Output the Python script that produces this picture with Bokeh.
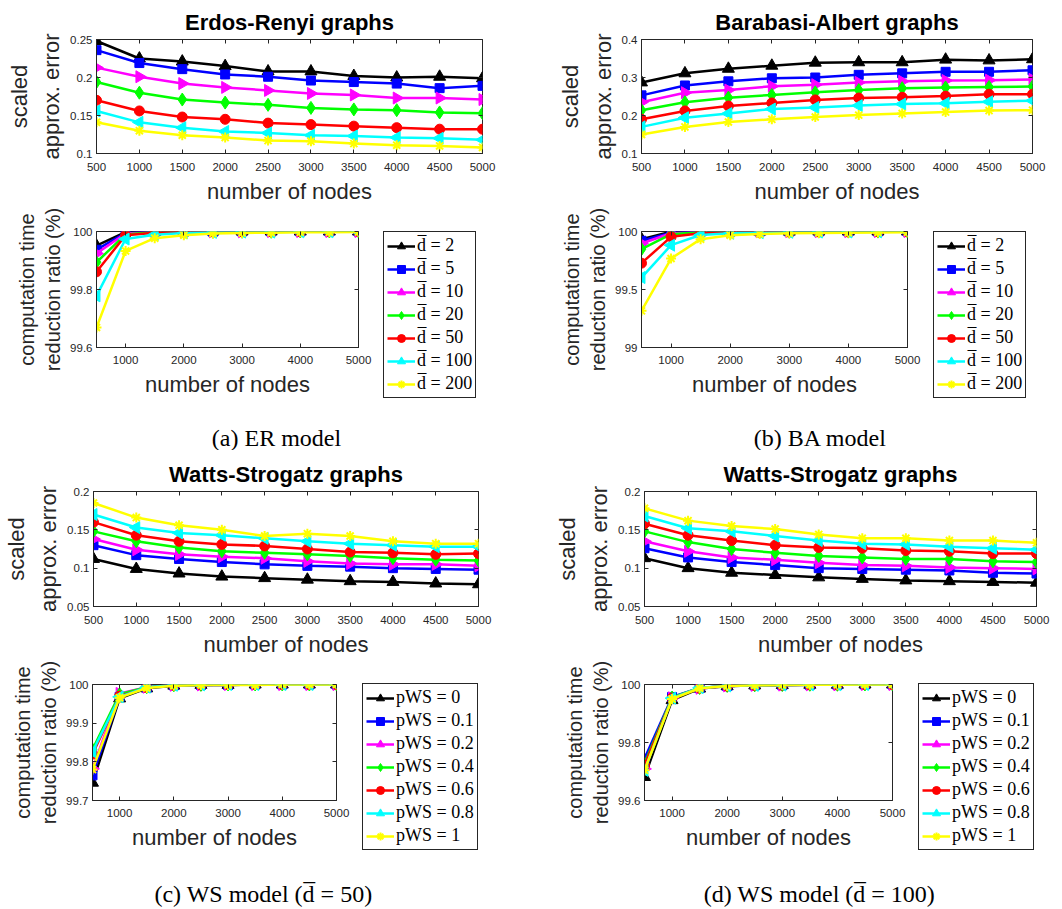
import math
from bokeh.plotting import figure
from bokeh.models import (Range1d, FixedTicker, LinearAxis, CustomJSTickFormatter,
                          Legend, LegendItem, Label, Spacer)
from bokeh.layouts import column, row
from bokeh.embed import file_html
from bokeh.resources import INLINE

# ---------------- data ----------------
nodes = [500, 1000, 1500, 2000, 2500, 3000, 3500, 4000, 4500, 5000]
err_xticks = [500, 1000, 1500, 2000, 2500, 3000, 3500, 4000, 4500, 5000]
time_xticks = [1000, 2000, 3000, 4000, 5000]

degree_labels = ["d\u0305 = 2", "d\u0305 = 5", "d\u0305 = 10", "d\u0305 = 20",
                 "d\u0305 = 50", "d\u0305 = 100", "d\u0305 = 200"]
pws_labels = ["pWS = 0", "pWS = 0.1", "pWS = 0.2", "pWS = 0.4",
              "pWS = 0.6", "pWS = 0.8", "pWS = 1"]
captions = ["(a) ER model", "(b) BA model",
            "(c) WS model (d\u0305 = 50)", "(d) WS model (d\u0305 = 100)"]

# Erdos-Renyi: scaled approx. error (rows: d=2,5,10,20,50,100,200)
er_error = [
    [0.248, 0.225, 0.221, 0.215, 0.208, 0.208, 0.202, 0.200, 0.201, 0.199],
    [0.236, 0.219, 0.211, 0.204, 0.201, 0.196, 0.194, 0.192, 0.186, 0.189],
    [0.213, 0.201, 0.192, 0.187, 0.183, 0.179, 0.177, 0.173, 0.173, 0.171],
    [0.194, 0.180, 0.171, 0.167, 0.164, 0.160, 0.158, 0.157, 0.154, 0.153],
    [0.170, 0.156, 0.148, 0.145, 0.140, 0.138, 0.136, 0.134, 0.132, 0.132],
    [0.156, 0.141, 0.134, 0.129, 0.127, 0.124, 0.123, 0.121, 0.120, 0.118],
    [0.141, 0.130, 0.124, 0.121, 0.117, 0.116, 0.113, 0.111, 0.110, 0.108],
]
# Barabasi-Albert: scaled approx. error
ba_error = [
    [0.287, 0.311, 0.323, 0.331, 0.339, 0.340, 0.340, 0.347, 0.345, 0.348],
    [0.253, 0.279, 0.290, 0.298, 0.300, 0.307, 0.311, 0.315, 0.315, 0.319],
    [0.235, 0.260, 0.267, 0.277, 0.281, 0.287, 0.290, 0.292, 0.293, 0.295],
    [0.214, 0.235, 0.247, 0.254, 0.261, 0.267, 0.272, 0.274, 0.275, 0.276],
    [0.190, 0.212, 0.225, 0.233, 0.241, 0.246, 0.248, 0.251, 0.256, 0.256],
    [0.170, 0.194, 0.205, 0.217, 0.221, 0.226, 0.230, 0.232, 0.236, 0.239],
    [0.150, 0.170, 0.183, 0.190, 0.196, 0.201, 0.205, 0.209, 0.213, 0.214],
]
# Erdos-Renyi: computation time reduction ratio (%)
er_time = [
    [99.951, 99.998, 99.999, 99.999, 100.0, 100.0, 100.0, 100.0, 100.0, 100.0],
    [99.937, 99.995, 99.999, 99.999, 99.999, 100.0, 100.0, 100.0, 100.0, 100.0],
    [99.924, 99.993, 99.998, 99.999, 99.999, 99.999, 100.0, 100.0, 100.0, 100.0],
    [99.894, 99.990, 99.998, 99.999, 99.999, 99.999, 99.999, 100.0, 100.0, 100.0],
    [99.861, 99.987, 99.996, 99.998, 99.999, 99.999, 99.999, 99.999, 100.0, 100.0],
    [99.778, 99.974, 99.989, 99.995, 99.997, 99.998, 99.998, 99.999, 99.999, 99.999],
    [99.669, 99.933, 99.977, 99.987, 99.993, 99.995, 99.996, 99.997, 99.997, 99.998],
]
# Barabasi-Albert: computation time reduction ratio (%)
ba_time = [
    [99.934, 99.998, 99.998, 99.999, 99.999, 99.999, 100.0, 100.0, 100.0, 100.0],
    [99.920, 99.990, 99.997, 99.998, 99.999, 99.999, 99.999, 100.0, 100.0, 100.0],
    [99.897, 99.985, 99.995, 99.997, 99.998, 99.999, 99.999, 99.999, 100.0, 100.0],
    [99.848, 99.977, 99.994, 99.997, 99.998, 99.998, 99.999, 99.999, 99.999, 99.999],
    [99.727, 99.954, 99.985, 99.990, 99.994, 99.996, 99.997, 99.998, 99.998, 99.999],
    [99.603, 99.882, 99.970, 99.985, 99.990, 99.993, 99.995, 99.996, 99.997, 99.997],
    [99.316, 99.767, 99.934, 99.968, 99.978, 99.985, 99.988, 99.990, 99.992, 99.993],
]
# Watts-Strogatz (d=50): scaled approx. error (rows: p=0,0.1,0.2,0.4,0.6,0.8,1)
ws50_error = [
    [0.112, 0.099, 0.093, 0.089, 0.087, 0.085, 0.083, 0.082, 0.080, 0.079],
    [0.130, 0.117, 0.112, 0.108, 0.105, 0.103, 0.102, 0.100, 0.099, 0.098],
    [0.138, 0.124, 0.118, 0.115, 0.113, 0.109, 0.106, 0.105, 0.105, 0.103],
    [0.148, 0.135, 0.127, 0.122, 0.120, 0.118, 0.116, 0.113, 0.111, 0.110],
    [0.160, 0.143, 0.135, 0.131, 0.129, 0.125, 0.121, 0.120, 0.118, 0.119],
    [0.170, 0.153, 0.146, 0.143, 0.139, 0.135, 0.132, 0.130, 0.128, 0.128],
    [0.185, 0.166, 0.156, 0.150, 0.142, 0.145, 0.142, 0.135, 0.132, 0.132],
]
# Watts-Strogatz (d=100): scaled approx. error
ws100_error = [
    [0.113, 0.100, 0.094, 0.091, 0.088, 0.086, 0.084, 0.083, 0.082, 0.081],
    [0.126, 0.114, 0.108, 0.104, 0.100, 0.099, 0.098, 0.097, 0.094, 0.093],
    [0.135, 0.122, 0.114, 0.111, 0.107, 0.104, 0.103, 0.101, 0.100, 0.099],
    [0.148, 0.134, 0.125, 0.120, 0.116, 0.114, 0.112, 0.112, 0.109, 0.108],
    [0.158, 0.143, 0.136, 0.130, 0.127, 0.126, 0.123, 0.122, 0.119, 0.119],
    [0.168, 0.152, 0.148, 0.142, 0.136, 0.132, 0.131, 0.128, 0.126, 0.124],
    [0.178, 0.162, 0.155, 0.151, 0.144, 0.139, 0.139, 0.136, 0.136, 0.133],
]
# Watts-Strogatz (d=50): computation time reduction ratio (%)
ws50_time = [
    [99.746, 99.964, 99.990, 99.997, 99.999, 99.999, 100.0, 100.0, 100.0, 100.0],
    [99.765, 99.968, 99.992, 99.998, 99.999, 99.999, 100.0, 100.0, 100.0, 100.0],
    [99.782, 99.977, 99.993, 99.998, 99.999, 100.0, 100.0, 100.0, 100.0, 100.0],
    [99.832, 99.975, 99.993, 99.998, 99.999, 100.0, 100.0, 100.0, 100.0, 100.0],
    [99.820, 99.970, 99.992, 99.998, 99.999, 100.0, 100.0, 100.0, 100.0, 100.0],
    [99.826, 99.968, 99.993, 99.998, 99.999, 100.0, 100.0, 100.0, 100.0, 100.0],
    [99.780, 99.966, 99.991, 99.997, 99.999, 99.999, 99.999, 100.0, 100.0, 100.0],
]
# Watts-Strogatz (d=100): computation time reduction ratio (%)
ws100_time = [
    [99.681, 99.946, 99.986, 99.994, 99.997, 99.998, 99.999, 99.999, 100.0, 100.0],
    [99.744, 99.957, 99.988, 99.995, 99.997, 99.998, 99.999, 99.999, 100.0, 100.0],
    [99.709, 99.954, 99.987, 99.995, 99.997, 99.998, 99.999, 99.999, 100.0, 100.0],
    [99.727, 99.955, 99.988, 99.995, 99.997, 99.998, 99.999, 99.999, 100.0, 100.0],
    [99.721, 99.953, 99.988, 99.995, 99.997, 99.998, 99.999, 99.999, 100.0, 100.0],
    [99.704, 99.953, 99.989, 99.995, 99.997, 99.998, 99.999, 99.999, 100.0, 100.0],
    [99.704, 99.950, 99.987, 99.995, 99.997, 99.998, 99.999, 99.999, 100.0, 100.0],
]

# ---------------- styles ----------------
AX = "#262626"
COLORS = ["#000000", "#0000ff", "#ff00ff", "#00ff00", "#ff0000", "#00ffff", "#ffff00"]
MARKERS = [("triangle", 0.0, 12), ("square", 0.0, 9), ("triangle", -math.pi / 2, 12),
           ("diamond", 0.0, 13), ("circle", 0.0, 10), ("triangle", math.pi / 2, 12),
           ("asterisk", 0.0, 10)]
SANS = "Liberation Sans"
SERIF = "Liberation Serif"
NAN = float("nan")


def style_axis(ax, ticks, label_size, tick_standoff, label_standoff, line_height=1.2):
    ax.ticker = FixedTicker(ticks=ticks)
    ax.formatter = CustomJSTickFormatter(code="return String(Math.round(tick*1000)/1000)")
    ax.major_tick_in = 4
    ax.major_tick_out = 0
    ax.minor_tick_line_color = None
    ax.axis_line_color = AX
    ax.major_tick_line_color = AX
    ax.major_label_text_color = AX
    ax.major_label_text_font = SANS
    ax.major_label_text_font_size = "11.5px"
    ax.major_label_standoff = tick_standoff
    ax.axis_label_text_font = SANS
    ax.axis_label_text_font_size = label_size
    ax.axis_label_text_font_style = "normal"
    ax.axis_label_text_color = AX
    ax.axis_label_text_line_height = line_height
    ax.axis_label_standoff = label_standoff


def mirror_axis(ticks):
    return LinearAxis(ticker=FixedTicker(ticks=ticks),
                      formatter=CustomJSTickFormatter(code="return ''"),
                      major_tick_in=4, major_tick_out=0, minor_tick_line_color=None,
                      axis_line_color=None, major_tick_line_color=AX,
                      major_label_standoff=0, major_label_text_font_size="1px")


def make_fig(w, h, left, right, top, bottom, yr, yticks, xticks, ylabel, ylabel_size,
             title=None, title_standoff=4, xstand=(9, 5), ylh=1.2):
    p = figure(width=w, height=h, x_range=Range1d(500, 5000), y_range=Range1d(*yr),
               output_backend="svg", toolbar_location=None,
               min_border_left=left, min_border_right=right,
               min_border_top=top, min_border_bottom=bottom,
               x_axis_label="number of nodes", y_axis_label=ylabel)
    p.grid.visible = False
    p.outline_line_color = AX
    p.outline_line_width = 1
    p.outline_line_alpha = 1
    p.background_fill_color = "white"
    p.border_fill_color = "white"
    style_axis(p.xaxis[0], xticks, "22px", xstand[0], xstand[1])
    style_axis(p.yaxis[0], yticks, ylabel_size, 4, 3, ylh)
    p.add_layout(mirror_axis(xticks), "above")
    p.add_layout(mirror_axis(yticks), "right")
    if title:
        p.title.text = title
        p.title.text_font = SANS
        p.title.text_font_size = "22px"
        p.title.text_font_style = "bold"
        p.title.text_color = "black"
        p.title.align = "center"
        p.title.standoff = title_standoff
    return p


def draw_series(p, data):
    for i, ys in enumerate(data):
        c = COLORS[i]
        mk, ang, sz = MARKERS[i]
        p.line(nodes, ys, line_color=c, line_width=2.5)
        p.scatter(nodes, ys, marker=mk, angle=ang, size=sz, fill_color=c,
                  line_color=c, line_width=2 if mk == "asterisk" else 1)


def blank_fig(w, h):
    f = figure(width=w, height=h, x_range=Range1d(0, 1), y_range=Range1d(0, 1),
               min_border=0, toolbar_location=None, output_backend="svg",
               x_axis_location=None, y_axis_location=None)
    f.grid.visible = False
    f.outline_line_color = None
    f.background_fill_color = "white"
    f.border_fill_color = "white"
    return f


def legend_fig(w, h, labels):
    # legend-only panel: proxy renderers carry the series styles (no visible data)
    lf = blank_fig(w, h)
    items = []
    for i, lab in enumerate(labels):
        c = COLORS[i]
        mk, ang, sz = MARKERS[i]
        lr = lf.line(x=[NAN], y=[NAN], line_color=c, line_width=2.5)
        sr = lf.scatter(x=[NAN], y=[NAN], marker=mk, angle=ang, size=sz, fill_color=c,
                        line_color=c, line_width=2 if mk == "asterisk" else 1)
        items.append(LegendItem(label=lab, renderers=[lr, sr]))
    leg = Legend(items=items, location="top_left", padding=3, spacing=2, margin=0,
                 glyph_width=28, glyph_height=20, label_height=20, label_standoff=2,
                 border_line_color=AX, border_line_width=1, border_line_alpha=1,
                 background_fill_color="white", background_fill_alpha=1,
                 label_text_font=SERIF, label_text_font_size="18px",
                 label_text_color="black")
    lf.add_layout(leg)
    return lf


def caption_fig(w, h, text, cx, cy):
    cf = blank_fig(w, h)
    cf.add_layout(Label(x=cx, y=cy, x_units="screen", y_units="screen", text=text,
                        text_align="center", text_baseline="middle",
                        text_font=SERIF, text_font_size="24px", text_color="black"))
    return cf


ERR_LABEL = "scaled\napprox. error"
TIME_LABEL = "computation time\nreduction ratio (%)"

# Row 1: error plots (ER, BA)   canvas y 0..207
e1 = make_fig(530, 207, 96, 48, 39, 54, (0.1, 0.25), [0.1, 0.15, 0.2, 0.25], err_xticks,
              ERR_LABEL, "22px", "Erdos-Renyi graphs", 9, ylh=1.3)
draw_series(e1, er_error)
e2 = make_fig(530, 207, 111, 28, 39, 54, (0.1, 0.4), [0.1, 0.2, 0.3, 0.4], err_xticks,
              ERR_LABEL, "22px", "Barabasi-Albert graphs", 9, ylh=1.3)
draw_series(e2, ba_error)

# Row 2: time plots (ER, BA) + legends   canvas y 207..420
t1 = make_fig(383, 213, 96, 25, 24, 73, (99.6, 100), [99.6, 99.8, 100], time_xticks,
              TIME_LABEL, "20px", xstand=(8, 5))
draw_series(t1, er_time)
l1 = legend_fig(147, 189, degree_labels)
t2 = make_fig(403, 213, 111, 26, 24, 73, (99, 100), [99, 99.5, 100], time_xticks,
              TIME_LABEL, "20px", xstand=(8, 5))
draw_series(t2, ba_time)
l2 = legend_fig(127, 189, degree_labels)

# captions (a), (b)   canvas y 420..450
c1 = caption_fig(530, 30, captions[0], 276, 13)
c2 = caption_fig(530, 30, captions[1], 290, 13)

# Row 3: WS error plots         canvas y 450..660
e3 = make_fig(530, 210, 92, 52, 40, 54, (0.05, 0.2), [0.05, 0.1, 0.15, 0.2], err_xticks,
              ERR_LABEL, "22px", "Watts-Strogatz graphs", 10, ylh=1.3)
draw_series(e3, ws50_error)
e4 = make_fig(530, 210, 114, 24, 41, 54, (0.05, 0.2), [0.05, 0.1, 0.15, 0.2], err_xticks,
              ERR_LABEL, "22px", "Watts-Strogatz graphs", 10, ylh=1.3)
draw_series(e4, ws100_error)

# Row 4: WS time plots + legends   canvas y 660..870
t3 = make_fig(362, 210, 92, 26, 24, 70, (99.7, 100), [99.7, 99.8, 99.9, 100], time_xticks,
              TIME_LABEL, "20px", xstand=(8, 5))
draw_series(t3, ws50_time)
l3 = legend_fig(168, 187, pws_labels)
t4 = make_fig(388, 210, 114, 26, 24, 70, (99.6, 100), [99.6, 99.8, 100], time_xticks,
              TIME_LABEL, "20px", xstand=(8, 5))
draw_series(t4, ws100_time)
l4 = legend_fig(142, 187, pws_labels)

# captions (c), (d)   canvas y 870..908
c3 = caption_fig(530, 38, captions[2], 263, 15)
c4 = caption_fig(530, 38, captions[3], 289, 15)

layout = column(
    row(e1, e2),
    row(t1, column(Spacer(width=147, height=24), l1), t2, column(Spacer(width=127, height=24), l2)),
    row(c1, c2),
    row(e3, e4),
    row(t3, column(Spacer(width=168, height=23), l3), t4, column(Spacer(width=142, height=23), l4)),
    row(c3, c4),
)
open("out.html", "w").write(file_html(layout, INLINE))
